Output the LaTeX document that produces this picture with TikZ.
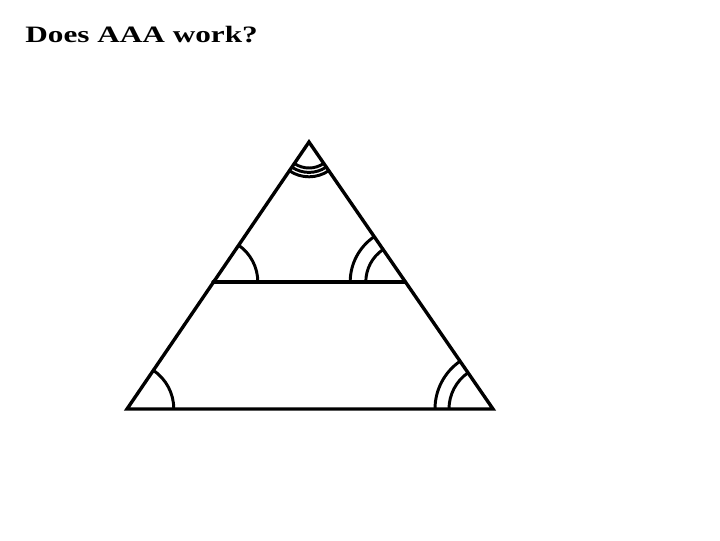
\documentclass[tikz,border=0pt]{standalone}
\usepackage{fontspec}
\setmainfont{Liberation Serif}
\usetikzlibrary{angles}
\tikzset{
  side/.style  = { line width=2.4pt, line cap=round, line join=miter },
  angmark/.style = { draw, line width=2.1pt },
  title/.style = { anchor=base west, inner sep=0pt, xscale=1.33,
                   font=\fontsize{16.7}{18}\selectfont\bfseries }
}

\begin{document}
\begin{tikzpicture}[x=0.025cm,y=0.025cm]
  \useasboundingbox (0,0) rectangle (720,540);

  \node (ttl) [title] at (25,497) {Does AAA work?};

  % big triangle and the cut parallel to the base
  \coordinate (top)   at (309,398);
  \coordinate (bl)    at (127,131);
  \coordinate (br)    at (493,131);
  \coordinate (ml)    at (213,258);
  \coordinate (mr)    at (405,258);

  \draw [side] (bl) -- (top) -- (br) -- cycle;
  \draw [side] (ml) -- (mr);

  % single arcs
  \pic [angmark, angle radius=1.17cm] {angle = br--bl--top};
  \pic [angmark, angle radius=1.12cm] {angle = mr--ml--top};

  % double arcs
  \pic [angmark, angle radius=1.45cm]  {angle = top--br--bl};
  \pic [angmark, angle radius=1.1cm]   {angle = top--br--bl};
  \pic [angmark, angle radius=1.37cm]  {angle = top--mr--ml};
  \pic [angmark, angle radius=0.98cm]  {angle = top--mr--ml};

  % triple arc at the top
  \pic [angmark, angle radius=0.65cm] {angle = bl--top--br};
  \pic [angmark, angle radius=0.76cm] {angle = bl--top--br};
  \pic [angmark, angle radius=0.87cm] {angle = bl--top--br};
\end{tikzpicture}
\end{document}
